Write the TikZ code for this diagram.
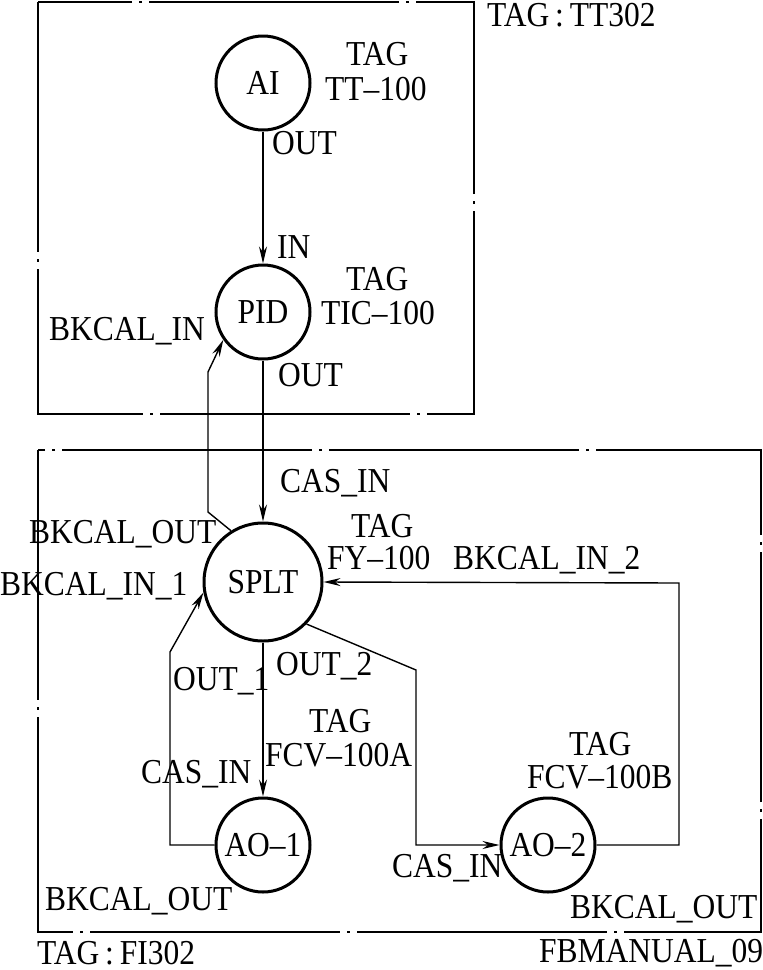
\documentclass[tikz,border=0pt]{standalone}
\usepackage{fontspec}
\setmainfont{Liberation Serif}[FakeStretch=0.9]
\usetikzlibrary{arrows.meta}
\begin{document}
\begin{tikzpicture}[x=1pt,y=-1pt,
  every node/.style={font=\fontsize{35}{40}\selectfont},
  fb/.style={circle, draw, line width=3pt, minimum size=94pt, inner sep=0pt},
  conn/.style={line width=1.4pt},
  arr/.style={conn,-{Stealth[length=17pt,width=8pt]}},
  grp/.style={line width=1.5pt, dash pattern=on 250pt off 7pt on 3pt off 7pt},
  lbl/.style={anchor=base west, inner sep=0pt}]
\useasboundingbox (0,0) rectangle (763,970);
% group boxes
\draw[grp] (38,2) rectangle (474,414);
\draw[grp] (38,450) rectangle (761,932);
% function blocks
\node[fb] (ai) at (263,83) {AI};
\node[fb] (pid) at (263,312) {PID};
\node[fb, minimum size=118pt] (splt) at (263,582) {SPLT};
\node[fb] (ao1) at (263,845) {AO–1};
\node[fb] (ao2) at (548,845) {AO–2};
% corner coordinates
\coordinate (b1) at (208,512);
\coordinate (b2) at (208,372);
\coordinate (c1) at (170,845);
\coordinate (c2) at (170,652);
\coordinate (d1) at (416,670);
\coordinate (d2) at (416,845);
\coordinate (e1) at (679,845);
\coordinate (e2) at (679,583);
% connectors
\draw[arr] (ai.south) -- (pid.north);
\draw[arr] (pid.south) -- (splt.north);
\draw[arr] (splt.122) -- (b1) -- (b2) -- (pid.215);
\draw[arr] (splt.south) -- (ao1.north);
\draw[arr] (ao1.west) -- (c1) -- (c2) -- (splt.190);
\draw[arr] (splt.-44) -- (d1) -- (d2) -- (ao2.west);
\draw[arr] (ao2.east) -- (e1) -- (e2) -- (splt.east);
% labels
\node[lbl] (t1) at (487,26) {TAG\,:\,TT302};
\node[lbl] (t2) at (346,65) {TAG};
\node[lbl] (t3) at (325,100) {TT–100};
\node[lbl] (t4) at (272,154) {OUT};
\node[lbl] (t5) at (277,258) {IN};
\node[lbl] (t6) at (346,290) {TAG};
\node[lbl] (t7) at (321,324) {TIC–100};
\node[lbl] (t8) at (49,340) {BKCAL\_IN};
\node[lbl] (t9) at (278,386) {OUT};
\node[lbl] (t10) at (280,492) {CAS\_IN};
\node[lbl] (t11) at (351,537) {TAG};
\node[lbl] (t12) at (327,569) {FY–100};
\node[lbl] (t13) at (453,569) {BKCAL\_IN\_2};
\node[lbl] (t14) at (29,543) {BKCAL\_OUT};
\node[lbl] (t15) at (0,595) {BKCAL\_IN\_1};
\node[lbl] (t16) at (173,690) {OUT\_1};
\node[lbl] (t17) at (276,675) {OUT\_2};
\node[lbl] (t18) at (309,732) {TAG};
\node[lbl] (t19) at (265,766) {FCV–100A};
\node[lbl] (t20) at (141,783) {CAS\_IN};
\node[lbl] (t21) at (569,755) {TAG};
\node[lbl] (t22) at (527,788) {FCV–100B};
\node[lbl] (t23) at (392,877) {CAS\_IN};
\node[lbl] (t24) at (45,910) {BKCAL\_OUT};
\node[lbl] (t25) at (570,918) {BKCAL\_OUT};
\node[lbl] (t26) at (37,964) {TAG\,:\,FI302};
\node[lbl] (t27) at (539,962) {FBMANUAL\_09};
\end{tikzpicture}
\end{document}
